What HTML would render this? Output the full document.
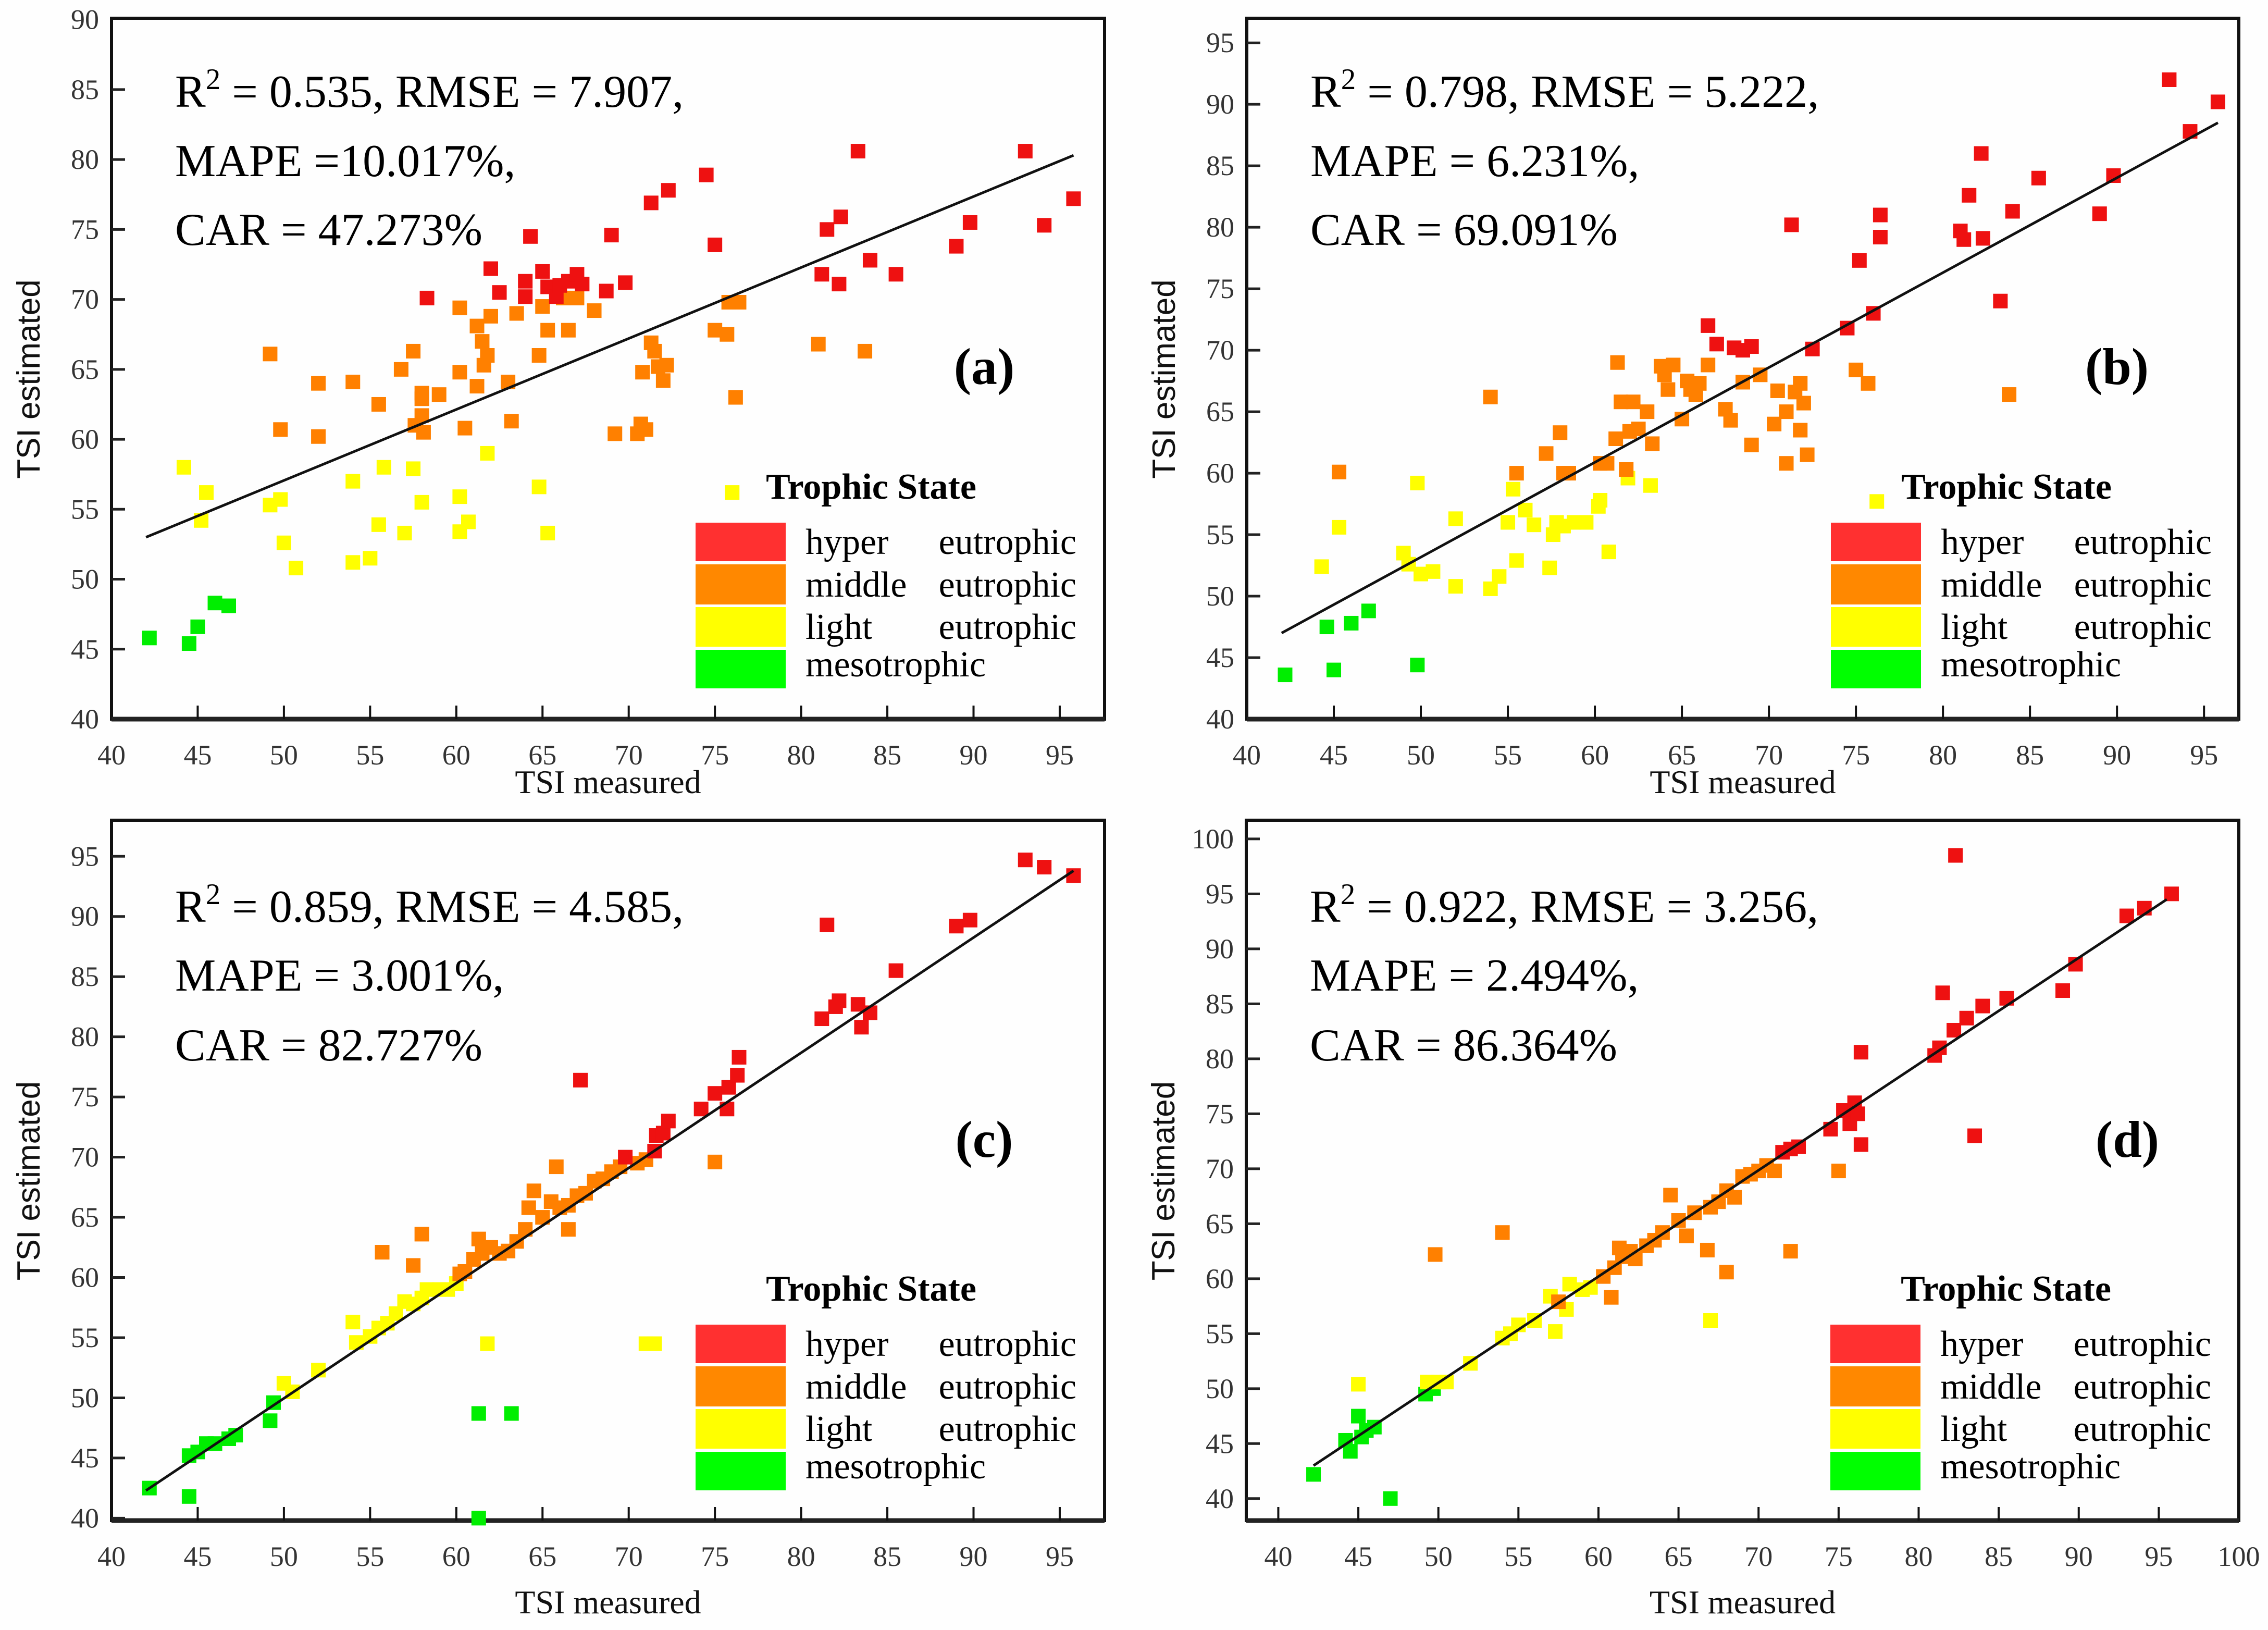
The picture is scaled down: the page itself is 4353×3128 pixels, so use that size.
<!DOCTYPE html>
<html><head><meta charset="utf-8"><style>
html,body{margin:0;padding:0;background:#fefefe;}
svg{display:block;}
</style></head><body>
<svg id="fig" xmlns="http://www.w3.org/2000/svg" width="4353" height="3128" viewBox="0 0 4353 3128"></svg>
<script>
// ---------- data (measured, estimated) per panel & class ----------
const aGreenX=[42.2,44.5,45,46,46.8];
const aGreenY=[45.8,45.4,46.6,48.3,48.1];
const aYellowX=[44.2,45.2,45.5,49.2,49.8,50,50.7,54,54,55,55.5,55.8,57,57.5,58,60.2,60.2,60.7,61.8,64.8,65.3,76];
const aYellowY=[58,54.2,56.2,55.3,55.7,52.6,50.8,57,51.2,51.5,53.9,58,53.3,57.9,55.5,55.9,53.4,54.1,59,56.6,53.3,56.2];
const aOrangeX=[49.2,49.8,52,52,54,55.5,56.8,57.5,57.6,58,58,58,58.1,59,60.2,60.2,60.5,61.2,61.2,61.5,61.6,61.8,62,63,63.2,63.5,64.8,65,65.3,66.2,66.5,67,68,69.2,70.5,70.7,71,70.8,71.3,71.5,71.7,72,72.2,75,75.7,75.8,76.2,76.4,81,83.7];
const aOrangeY=[66.1,60.7,64,60.2,64.1,62.5,65,66.3,61,63.3,62.9,61.7,60.5,63.2,64.8,69.4,60.8,63.8,68.1,67,65.3,66,68.8,64.1,61.3,69,66,69.5,67.8,70.1,67.8,70.1,69.2,60.4,60.4,61.1,60.7,64.8,66.9,66.3,65.2,64.2,65.3,67.8,67.5,69.8,63,69.8,66.8,66.3];
const aRedX=[58.3,62,62.5,64,64,64.3,65,65.3,65.8,66,66.5,67,67.3,68.7,69,69.8,71.3,72.3,74.5,75,81.2,81.5,82.2,82.3,83.3,84,85.5,89,89.8,93,94.1,95.8];
const aRedY=[70.1,72.2,70.5,71.3,70.2,74.5,72,70.9,70.2,71,71.3,71.8,71.1,70.6,74.6,71.2,76.9,77.8,78.9,73.9,71.8,75,71.1,75.9,80.6,72.8,71.8,73.8,75.5,80.6,75.3,77.2];

const bGreenX=[42.2,44.6,45,46,47,49.8];
const bGreenY=[43.6,47.5,44,47.8,48.8,44.4];
const bYellowX=[44.3,45.3,49,49.3,49.8,50,50.7,52,52,54,54.5,55,55.3,55.5,56,56.5,57.4,57.6,57.8,58.2,58.8,59.5,60.2,60.3,60.8,61.9,63.2,76.2];
const bYellowY=[52.4,55.6,53.5,52.6,59.2,51.8,52,56.3,50.8,50.6,51.6,56,58.7,52.9,57,55.8,52.3,55,56,55.7,56,56,57.3,57.8,53.6,59.6,59,57.7];
const bOrangeX=[45.3,54,55.5,57.2,58,58.2,58.5,60.3,60.7,61.2,61.3,61.5,61.8,62,62.2,62.5,63,63.3,63.8,64,64.2,64.5,65,65.3,65.5,65.8,66,66.5,67.5,67.8,68.5,69,69.5,70.3,70.5,71,71,71.5,71.8,71.8,72,72.2,75,75.7,83.8];
const bOrangeY=[60.1,66.2,60,61.6,63.3,60,60,60.8,60.8,62.8,69,65.8,60.3,63.4,65.8,63.6,65,62.4,68.7,68,66.8,68.8,64.4,67.5,66.8,66.4,67.3,68.8,65.2,64.3,67.4,62.3,68,64,66.7,65,60.8,66.6,63.5,67.3,65.7,61.5,68.4,67.3,66.4];
const bRedX=[66.5,67,68,68.5,69,72.5,71.3,74.5,75.2,76,76.4,76.4,81,81.2,81.5,82.2,82.3,83.3,84,85.5,89,89.8,93,94.2,95.8];
const bRedY=[72,70.5,70.2,70,70.3,70.1,80.2,71.8,77.3,73,79.2,81,79.7,79,82.6,86,79.1,74,81.3,84,81.1,84.2,92,87.8,90.2];

const cGreenX=[42.2,44.5,44.5,45,45.5,46,46.8,47.2,49.2,49.4,61.3,63.2,61.3];
const cGreenY=[42.5,41.8,45.2,45.5,46.2,46.2,46.6,46.9,48.1,49.6,48.7,48.7,40];
const cYellowX=[50,50.5,52,54,54.2,55,55.5,56,56.5,57,57.5,58,58.3,59,59.5,60,61.8,71,71.5];
const cYellowY=[51.2,50.5,52.3,56.3,54.6,55.1,55.8,56.2,57,58,57.8,58.3,59,59,59,59.5,54.5,54.5,54.5];
const cOrangeX=[55.7,57.5,58,60.2,60.5,61,61.3,61.5,62,62.5,63,63.5,64,64.2,64.5,65,65.5,65.8,66,66.5,67,67.5,68,68.5,69,69.5,70.5,71,66.5,75];
const cOrangeY=[62.1,61,63.6,60.3,60.5,61.5,63.2,62,62.5,62,62.2,63,64,65.8,67.2,65,66.3,69.2,65.8,66,66.8,67,68,68.2,68.8,69.2,69.5,69.8,64,69.6];
const cRedX=[67.2,69.8,71.5,71.6,72,72.3,74.2,75,75.7,75.8,76.3,76.4,81.2,81.5,82,82.2,83.3,83.5,84,85.5,89,89.8,93,94.1,95.8];
const cRedY=[76.4,70,70.5,71.8,72,73,74,75.3,74,75.8,76.8,78.3,81.5,89.3,82.5,83,82.7,80.8,82,85.5,89.2,89.7,94.7,94.1,93.4];

const dGreenX=[42.2,44.2,44.5,45,45.2,45.5,46,47,49.2,49.7];
const dGreenY=[42.2,45.3,44.3,47.5,45.6,46.2,46.5,40,49.5,50];
const dYellowX=[45,49.3,50,50.5,52,54,54.5,55,56,57,57.3,58,58.2,59,59.5,67];
const dYellowY=[50.4,50.6,50.6,50.6,52.3,54.6,55,55.8,56.2,58.4,55.2,57.2,59.5,59,59.2,56.2];
const dOrangeX=[49.8,54,57.5,60.3,60.8,61,61.3,61.5,62,62.3,63,63.5,64,64.5,65,65.5,66,66.8,67,67.5,68,68,68.5,69,69.5,70,70.5,71,72,75];
const dOrangeY=[62.2,64.2,57.9,60.2,58.3,61,62.8,62,62.5,61.8,63,63.5,64.2,67.6,65.3,63.9,66,62.6,66.5,67,68,60.6,67.4,69.3,69.5,69.8,70.3,69.8,62.5,69.8];
const dRedX=[71.5,72,72.5,74.5,75.3,75.7,76,76.2,76.4,76.4,81,81.3,81.5,82.2,82.3,83,83.5,84,85.5,89,89.8,93,94.1,95.8];
const dRedY=[71.5,71.8,72,73.6,75.3,74.1,76,75,80.6,72.2,80.3,81,86,82.6,98.5,83.7,73,84.8,85.5,86.2,88.6,93,93.7,95];

// fit lines: [x0,y0,x1,y1]
const aFit=[42,53,95.8,80.3];
const bFit=[42,47,95.8,88.5];
const cFit=[42,42.3,95.8,93.8];
const dFit=[42.2,43,95.5,94.5];

const aStats=["0.535","7.907","=10.017%","47.273%"];
const bStats=["0.798","5.222","= 6.231%","69.091%"];
const cStats=["0.859","4.585","= 3.001%","82.727%"];
const dStats=["0.922","3.256","= 2.494%","86.364%"];

const xTicksA=[40,45,50,55,60,65,70,75,80,85,90,95];
const xTicksD=[40,45,50,55,60,65,70,75,80,85,90,95,100];
const yTicksA=[40,45,50,55,60,65,70,75,80,85,90];
const yTicksB=[40,45,50,55,60,65,70,75,80,85,90,95];
const yTicksD=[40,45,50,55,60,65,70,75,80,85,90,95,100];
const legendLabels=[["hyper","eutrophic"],["middle","eutrophic"],["light","eutrophic"],["mesotrophic",""]];

const COL={red:"#ee1111",orange:"#ff8000",yellow:"#ffff00",green:"#00ee00"};
const LEG=["#ff3030","#ff8800","#ffff00","#00ff00"];
const NS="http://www.w3.org/2000/svg";
const svg=document.getElementById('fig');
function mk(tag,attrs,parent){const e=document.createElementNS(NS,tag);for(const k in attrs)e.setAttribute(k,attrs[k]);(parent||svg).appendChild(e);return e;}

const panels=[
 {id:'a',L:214,T:35,R:2120,B:1380,xr:[40,97.6],yr:[40,90.1],xt:xTicksA,yt:yTicksA,
  sets:[[aGreenX,aGreenY,'green'],[aYellowX,aYellowY,'yellow'],[aOrangeX,aOrangeY,'orange'],[aRedX,aRedY,'red']],fit:aFit,st:aStats,sy:[205,338,470],lab:[1889,737],legY:0,xtY:142},
 {id:'b',L:2393,T:35,R:4297,B:1380,xr:[40,97],yr:[40,97],xt:xTicksA,yt:yTicksB,
  sets:[[bGreenX,bGreenY,'green'],[bYellowX,bYellowY,'yellow'],[bOrangeX,bOrangeY,'orange'],[bRedX,bRedY,'red']],fit:bFit,st:bStats,sy:[205,338,470],lab:[4063,737],legY:0,xtY:142},
 {id:'c',L:214,T:1574,R:2120,B:2918,xr:[40,97.6],yr:[39.8,98],xt:xTicksA,yt:yTicksB,
  sets:[[cGreenX,cGreenY,'green'],[cYellowX,cYellowY,'yellow'],[cOrangeX,cOrangeY,'orange'],[cRedX,cRedY,'red']],fit:cFit,st:cStats,sy:[1769,1901,2035],lab:[1889,2220],legY:1539,xtY:178},
 {id:'d',L:2392,T:1574,R:4297,B:2918,xr:[38,100],yr:[38,101.7],xt:xTicksD,yt:yTicksD,
  sets:[[dGreenX,dGreenY,'green'],[dYellowX,dYellowY,'yellow'],[dOrangeX,dOrangeY,'orange'],[dRedX,dRedY,'red']],fit:dFit,st:dStats,sy:[1769,1901,2035],lab:[4083,2220],legY:1539,xtY:178}
];

panels.forEach(p=>{
  const g=mk('g',{});
  
  
  const sx=v=>p.L+(v-p.xr[0])/(p.xr[1]-p.xr[0])*(p.R-p.L);
  const sy=v=>p.B-(v-p.yr[0])/(p.yr[1]-p.yr[0])*(p.B-p.T);
  const fr=mk('rect',{x:p.L,y:p.T,width:p.R-p.L,height:p.B-p.T,fill:'none',stroke:'#111','stroke-width':6},g);
  
  
  mk('line',{x1:p.L,y1:p.B,x2:p.R,y2:p.B,stroke:'#222','stroke-width':9},g);
  p.xt.forEach(t=>{
    const x=sx(t);
    if(x>p.L+3&&x<p.R-3) mk('line',{x1:x,y1:p.B,x2:x,y2:p.B-26,stroke:'#111','stroke-width':4},g);
    const tl=mk('text',{x:x,y:p.B+87,'font-family':'Liberation Serif, serif','font-size':54,'text-anchor':'middle',fill:'#333'},g);
    tl.textContent=t;
    
    
  });
  p.yt.forEach(t=>{
    const y=sy(t);
    if(y>p.T+3&&y<p.B-3) mk('line',{x1:p.L,y1:y,x2:p.L+26,y2:y,stroke:'#222','stroke-width':5},g);
    const tl=mk('text',{x:p.L-24,y:y+18,'font-family':'Liberation Serif, serif','font-size':54,'text-anchor':'end',fill:'#333'},g);
    tl.textContent=t;
    
    
  });
  const xt=mk('text',{x:(p.L+p.R)/2,y:p.B+p.xtY,'font-family':'Liberation Serif, serif','font-size':64,'text-anchor':'middle',fill:'#111'},g);
  xt.textContent='TSI measured';
  
  
  const yx=p.L-138, yy=(p.T+p.B)/2+20;
  const yt=mk('text',{x:yx,y:yy,transform:`rotate(-90 ${yx} ${yy})`,'font-family':'Liberation Sans, sans-serif','font-size':62,'text-anchor':'middle',fill:'#111'},g);
  yt.textContent='TSI estimated';
  
  
  p.sets.forEach(([xs,ys,c])=>{
    xs.forEach((v,i)=>{
      const r=mk('rect',{x:sx(v)-14,y:sy(ys[i])-14,width:28,height:28,fill:COL[c]},g);
      
      
    });
  });
  const fl=mk('line',{x1:sx(p.fit[0]),y1:sy(p.fit[1]),x2:sx(p.fit[2]),y2:sy(p.fit[3]),stroke:'#111','stroke-width':5},g);
  
  
  const tx=p.L+122;
  const s1=mk('text',{x:tx,y:p.sy[0],'font-family':'Liberation Serif, serif','font-size':88,fill:'#000'},g);
  s1.innerHTML=`R<tspan dy="-34" font-size="57">2</tspan><tspan dy="34"> = ${p.st[0]}, RMSE = ${p.st[1]},</tspan>`;
  
  
  const s2=mk('text',{x:tx,y:p.sy[1],'font-family':'Liberation Serif, serif','font-size':88,fill:'#000'},g);
  s2.textContent=`MAPE ${p.st[2]},`;
  
  
  const s3=mk('text',{x:tx,y:p.sy[2],'font-family':'Liberation Serif, serif','font-size':88,fill:'#000'},g);
  s3.textContent=`CAR = ${p.st[3]}`;
  
  
  const pl=mk('text',{x:p.lab[0],y:p.lab[1],'font-family':'Liberation Serif, serif','font-size':100,'font-weight':'bold','text-anchor':'middle',fill:'#000'},g);
  pl.textContent='('+p.id+')';
  
  
  const lg=mk('g',{transform:`translate(${p.L-214},${p.legY})`},g);
  
  
  const lt=mk('text',{x:1672,y:957,'font-family':'Liberation Serif, serif','font-size':70,'font-weight':'bold','text-anchor':'middle',fill:'#000'},lg);
  lt.textContent='Trophic State';
  
  
  const rows=[[1003,1077,1063],[1083,1160,1145],[1165,1241,1226],[1247,1321,1298]];
  rows.forEach((r,i)=>{
    const sw=mk('rect',{x:1335,y:r[0],width:173,height:r[1]-r[0],fill:LEG[i]},lg);
    
    
    const a=mk('text',{x:1546,y:r[2],'font-family':'Liberation Serif, serif','font-size':70,fill:'#000'},lg);
    a.textContent=legendLabels[i][0];
    
    
    if(legendLabels[i][1]){
      const b=mk('text',{x:2066,y:r[2],'font-family':'Liberation Serif, serif','font-size':70,'text-anchor':'end',fill:'#000'},lg);
      b.textContent=legendLabels[i][1];
      
      
    }
  });
});
</script>
</body></html>
